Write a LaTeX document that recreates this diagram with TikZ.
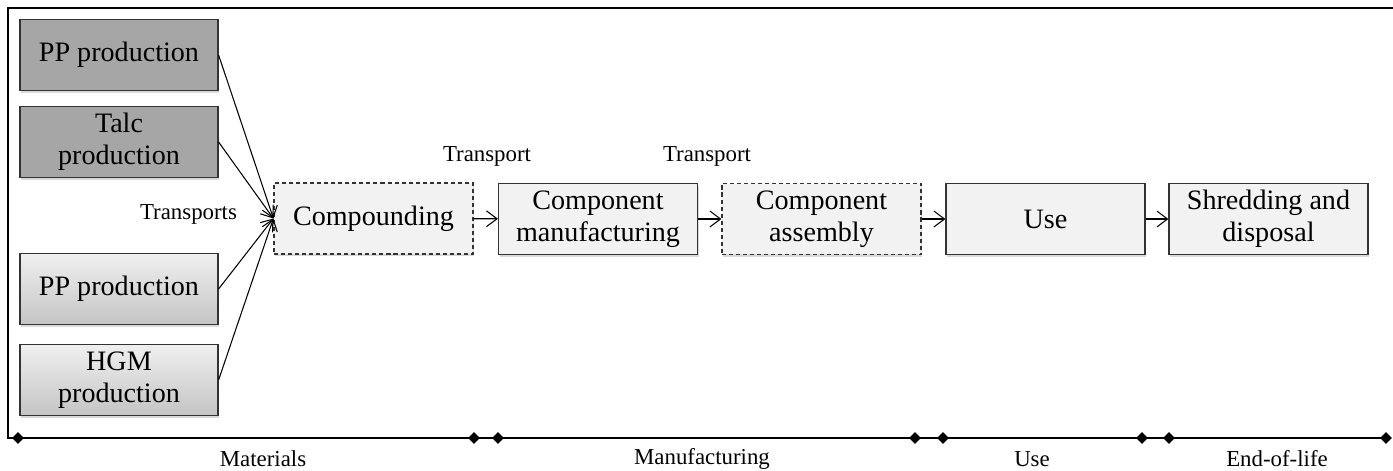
\documentclass[tikz,border=0pt]{standalone}
\usepackage{fontspec}
\setmainfont{Liberation Serif}
\usetikzlibrary{arrows.meta,shapes.geometric,shadows}

\begin{document}
\begin{tikzpicture}[x=0.02cm,y=-0.02cm,
  box/.style={draw=black!80,line width=0.7pt,minimum width=3.96cm,minimum height=1.42cm,
    align=center,font=\fontsize{16}{18}\selectfont,
    drop shadow={shadow xshift=0.6pt,shadow yshift=-1.2pt,opacity=0.3}},
  raw/.style={box,fill=gray!70},
  mixed/.style={box,top color=gray!12,bottom color=gray!46},
  stage/.style={box,fill=gray!10,minimum width=3.98cm},
  virtual/.style={stage,dash pattern=on 2.3pt off 1.7pt},
  lbl/.style={font=\fontsize{13}{15}\selectfont},
  flow/.style={-{Straight Barb[length=6pt,width=9pt]},line width=0.6pt},
  tick/.style={diamond,fill,inner sep=0pt,minimum size=0.24cm}]
\useasboundingbox (0,0) rectangle (1393,470);
\node[raw] (pp1) at (119,55) {PP production};
\node[raw] (talc) at (119,142) {Talc\\production};
\node[mixed] (pp2) at (119,289) {PP production};
\node[mixed] (hgm) at (119,380) {HGM\\production};
\node[virtual] (comp) at (373.5,218.5) {Compounding};
\node[stage] (manuf) at (598,219) {Component\\manufacturing};
\node[virtual] (assem) at (821.5,219) {Component\\assembly};
\node[stage] (use) at (1045.5,219) {Use};
\node[stage] (shred) at (1268.5,219) {Shredding and\\disposal};
\node[lbl] (tr0) at (188.5,214) {Transports};
\node[lbl] (tr1) at (487,156) {Transport};
\node[lbl] (tr2) at (707,156) {Transport};
\foreach \s in {pp1,talc,pp2,hgm}
  \draw[flow] (\s.east) -- (comp.west);
\draw[flow] (comp) -- (manuf);
\draw[flow] (manuf) -- (assem);
\draw[flow] (assem) -- (use);
\draw[flow] (use) -- (shred);
\foreach \x [count=\i] in {18,474,498,915,943,1142,1169,1386}
  \node[tick] (t\i) at (\x,438) {};
\draw[line width=0.8pt] (1393,8) -- (8,8) -- (8,438) -- (t8.center);
\node[lbl] (ph1) at (263,459) {Materials};
\node[lbl] (ph2) at (702,459) {Manufacturing};
\node[lbl] (ph3) at (1032,459) {Use};
\node[lbl] (ph4) at (1277,459) {End-of-life};
\end{tikzpicture}
\end{document}
